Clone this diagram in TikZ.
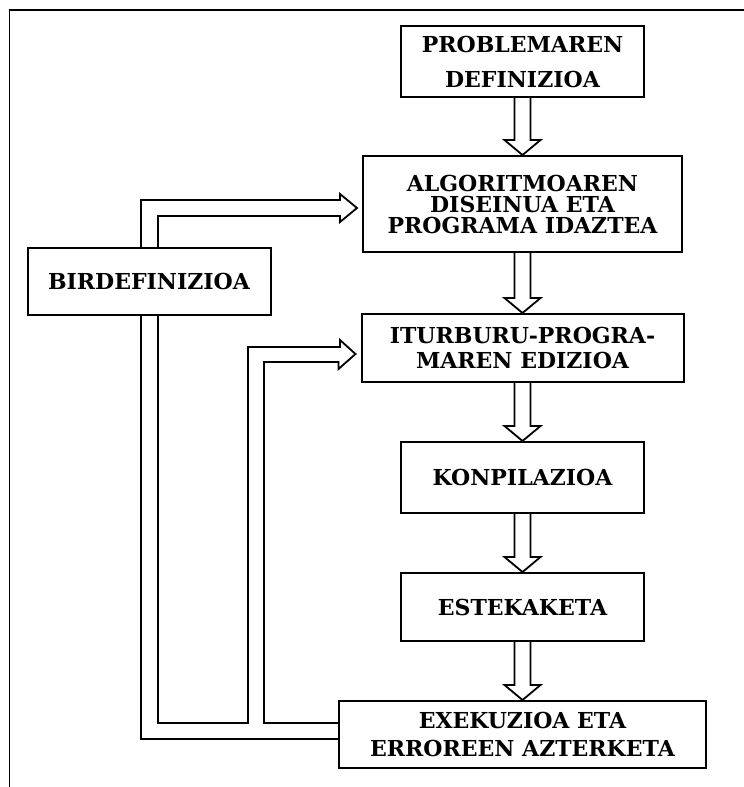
\documentclass[tikz,border=0pt]{standalone}
\usepackage{fontspec}
\usepackage{tikz}
\usetikzlibrary{positioning,calc}
\newfontfamily\kutxafont{DejaVu Serif}

\begin{document}
\begin{tikzpicture}[
  x=0.5pt, y=-0.5pt,
  kutxa/.style={draw, line width=1pt, fill=white, inner sep=0pt,
                align=center,
                font=\kutxafont\bfseries\fontsize{11}{12}\selectfont},
  hodia/.style={draw, line width=0.9pt},
  markoa/.style={draw, line width=0.8pt},
]
\useasboundingbox (0,0) rectangle (744,787);
\draw[markoa] (9.5,787) |- (744,10);
% ---- Kutxak --------------------------------------------------------------
\node[kutxa, minimum width=121.5pt, minimum height=35.5pt] (prob)
  at (522.5,61.5) {PROBLEMAREN\\[5.5pt]DEFINIZIOA};
\node[kutxa, minimum width=159.5pt, minimum height=48pt] (algo)
  at (522.5,204) {ALGORITMOAREN\\[-1.5pt]DISEINUA ETA\\[-1.5pt]PROGRAMA IDAZTEA};
\node[kutxa, minimum width=121.5pt, minimum height=33.5pt] (bir)
  at (149,281.5) {BIRDEFINIZIOA};
\node[kutxa, minimum width=161pt, minimum height=34pt] (itur)
  at (522.5,348) {ITURBURU-PROGRA-\\[0.5pt]MAREN EDIZIOA};
\node[kutxa, minimum width=121.5pt, minimum height=35.5pt] (konp)
  at (522.5,477.5) {KONPILAZIOA};
\node[kutxa, minimum width=121.5pt, minimum height=34pt] (este)
  at (522.5,607) {ESTEKAKETA};
\node[kutxa, minimum width=183.5pt, minimum height=33.5pt] (exek)
  at (522.5,734.5) {EXEKUZIOA ETA\\[2pt]ERROREEN AZTERKETA};
% ---- Gezi bikoitzak, beherantz -------------------------------------------
\foreach \a/\b in {prob/algo, algo/itur, itur/konp, konp/este, este/exek} {
  \draw[hodia] ([xshift=-4pt]\a.south) -- ([xshift=-4pt,yshift=7.5pt]\b.north)
    -- ++(-10,0) -- (\b.north) -- ([xshift=9pt,yshift=7.5pt]\b.north)
    -- ++(-10,0) -- ([xshift=4pt]\a.south);
}
% ---- Itzulerako hodia ----------------------------------------------------
\draw[hodia] ([xshift=-4pt]bir.north) |- (340,200) -- ++(0,-6)
  -- ([xshift=-2.5pt,yshift=-2pt]algo.west) -- ++(-17,14) -- ++(0,-6)
  -| ([xshift=4.5pt]bir.north);
\draw[hodia] ([xshift=4.5pt]bir.south) |- (248,723) |- (340,347)
  -- ++(0,-7) -- ([xshift=-2.5pt,yshift=-3pt]itur.west) -- ++(-17,15)
  -- ++(0,-7) -| (264,723) -- ([yshift=5.75pt]exek.west);
\draw[hodia] ([xshift=-4pt]bir.south) |- ([yshift=-2.25pt]exek.west);
\end{tikzpicture}
\end{document}
